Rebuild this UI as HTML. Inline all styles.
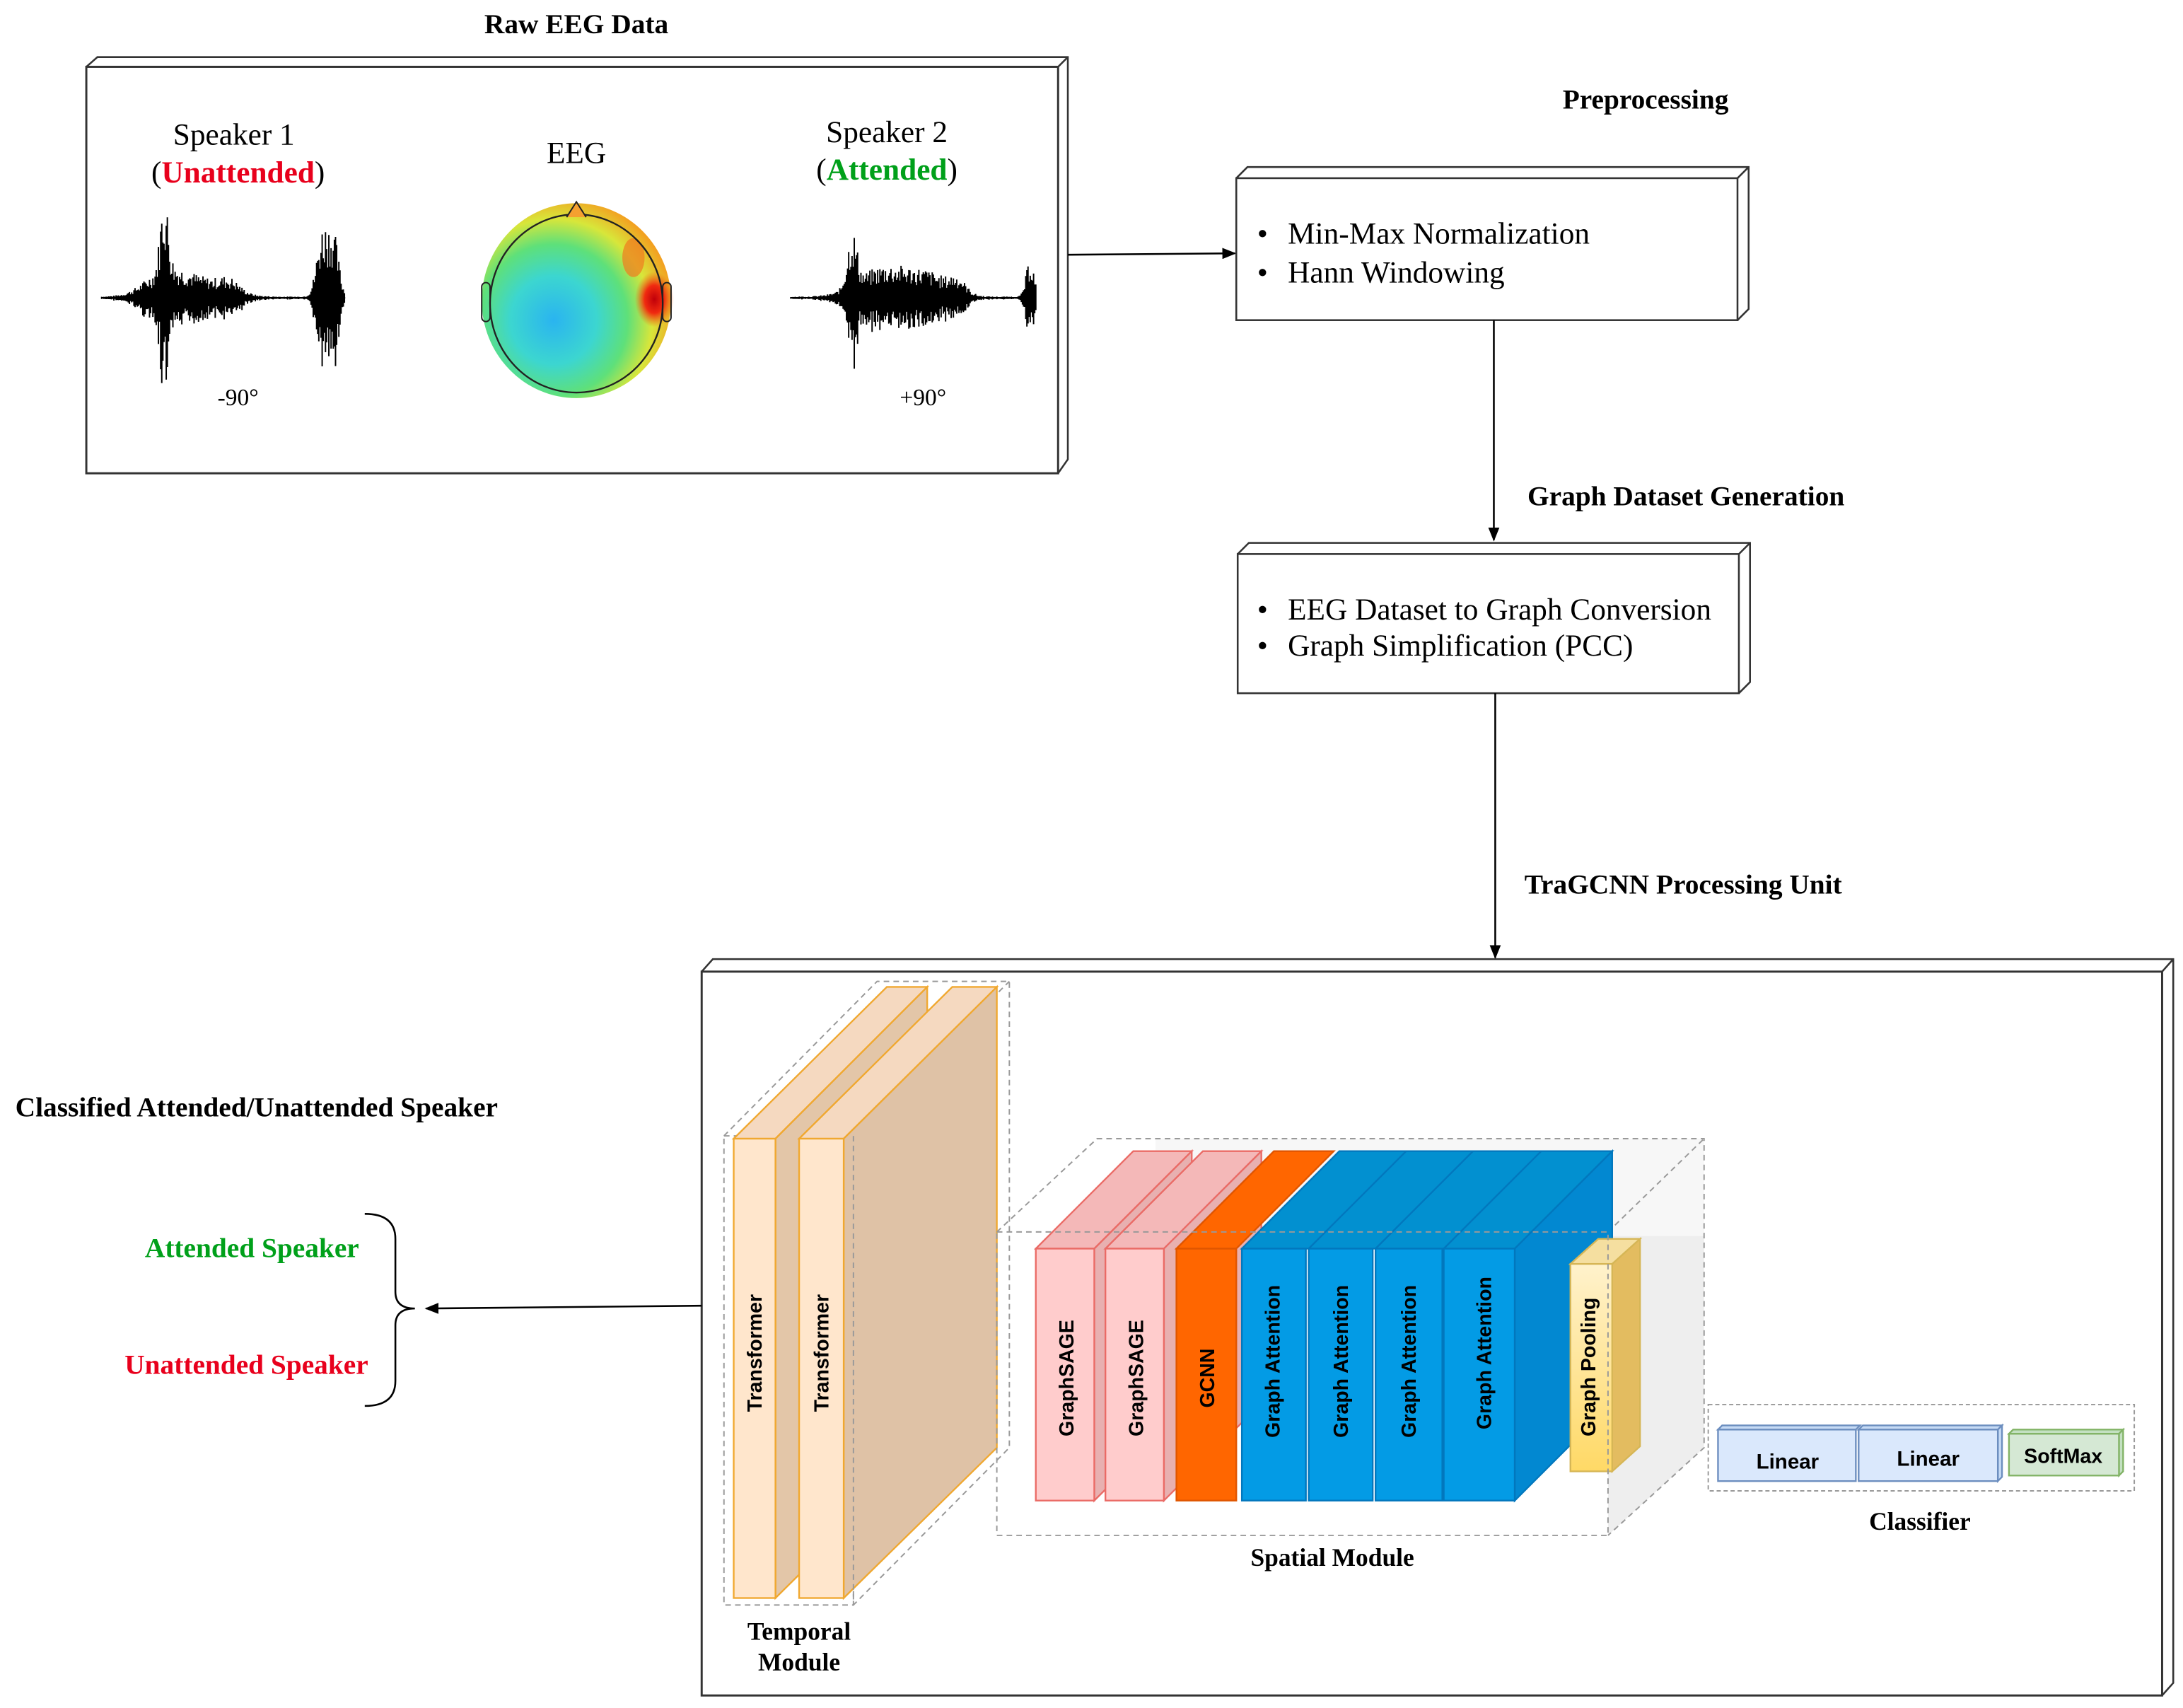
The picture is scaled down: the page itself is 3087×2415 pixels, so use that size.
<!DOCTYPE html>
<html><head><meta charset="utf-8"><style>
html,body{margin:0;padding:0;background:#fff;}
svg{display:block;}
.t{font-family:"Liberation Serif",serif;}
.b{font-family:"Liberation Serif",serif;font-weight:bold;}
.s{font-family:"Liberation Sans",sans-serif;font-weight:bold;}
</style></head><body>
<svg width="3087" height="2415" viewBox="0 0 1568 1227" preserveAspectRatio="none" xmlns="http://www.w3.org/2000/svg">
<defs>
<marker id="ar" markerWidth="10" markerHeight="8" refX="9" refY="4" orient="auto" markerUnits="userSpaceOnUse"><path d="M0,0 L10,4 L0,8 z" fill="#000"/></marker>
<radialGradient id="eeg" cx="0.38" cy="0.6" r="0.65">
<stop offset="0" stop-color="#2ab4f0"/><stop offset="0.35" stop-color="#3cd6d0"/><stop offset="0.6" stop-color="#5ee07a"/><stop offset="0.8" stop-color="#d8e63a"/><stop offset="1" stop-color="#f3a020"/></radialGradient>
<radialGradient id="hot" cx="0.5" cy="0.5" r="0.5"><stop offset="0" stop-color="#c0000a"/><stop offset="0.5" stop-color="#f02a10"/><stop offset="1" stop-color="#f06010" stop-opacity="0"/></radialGradient>
<linearGradient id="pool" x1="0" y1="0" x2="0" y2="1"><stop offset="0" stop-color="#fff2cc"/><stop offset="1" stop-color="#ffd966"/></linearGradient>
</defs>

<!-- Raw EEG -->
<text x="414" y="24" class="b" font-size="20" text-anchor="middle">Raw EEG Data</text>
<path d="M62,48 L70,41 L767,41 L767,330 L760,340" fill="none" stroke="#333" stroke-width="1.3"/>
<line x1="760" y1="48" x2="767" y2="41" stroke="#333" stroke-width="1.3"/>
<rect x="62" y="48" width="698" height="292" fill="#fff" stroke="#333" stroke-width="1.5"/>
<text x="168" y="104" class="t" font-size="22" text-anchor="middle">Speaker 1</text>
<text x="171" y="131" class="t" font-size="22" text-anchor="middle">(<tspan fill="#e8001c" font-weight="bold">Unattended</tspan>)</text>
<text x="414" y="117" class="t" font-size="22" text-anchor="middle">EEG</text>
<text x="637" y="102" class="t" font-size="22" text-anchor="middle">Speaker 2</text>
<text x="637" y="129" class="t" font-size="22" text-anchor="middle">(<tspan fill="#00a01a" font-weight="bold">Attended</tspan>)</text>
<text x="171" y="291" class="t" font-size="17" text-anchor="middle">-90°</text>
<text x="663" y="291" class="t" font-size="17" text-anchor="middle">+90°</text>
<g id="w1" stroke="#000" stroke-width="1"></g>
<g id="w2" stroke="#000" stroke-width="1"></g>
<!-- head -->
<ellipse cx="414" cy="216" rx="68" ry="70" fill="url(#eeg)"/>
<ellipse cx="470" cy="215" rx="14" ry="20" fill="url(#hot)"/>
<ellipse cx="455" cy="185" rx="8" ry="14" fill="#f07a20" opacity="0.7"/>
<ellipse cx="414" cy="218" rx="62" ry="64" fill="none" stroke="#222" stroke-width="1.2"/>
<path d="M407,156 L414,145 L421,156" fill="#f5a030" stroke="#222" stroke-width="1"/>
<rect x="346" y="203" width="6" height="28" rx="3" fill="none" stroke="#222"/>
<rect x="476" y="203" width="6" height="28" rx="3" fill="none" stroke="#222"/>

<line x1="767" y1="183" x2="887" y2="182" stroke="#000" stroke-width="1.3" marker-end="url(#ar)"/>

<!-- Preprocessing -->
<text x="1182" y="78" class="b" font-size="20" text-anchor="middle">Preprocessing</text>
<path d="M888,128 L896,120 L1256,120 L1256,222 L1248,230" fill="none" stroke="#333" stroke-width="1.3"/>
<line x1="1248" y1="128" x2="1256" y2="120" stroke="#333" stroke-width="1.3"/>
<rect x="888" y="128" width="360" height="102" fill="#fff" stroke="#333" stroke-width="1.3"/>
<text x="903" y="175" class="t" font-size="22">•<tspan x="925">Min-Max Normalization</tspan></text>
<text x="903" y="203" class="t" font-size="22">•<tspan x="925">Hann Windowing</tspan></text>
<line x1="1073" y1="230" x2="1073" y2="388" stroke="#000" stroke-width="1.3" marker-end="url(#ar)"/>

<!-- Graph dataset -->
<text x="1211" y="363" class="b" font-size="20" text-anchor="middle">Graph Dataset Generation</text>
<path d="M889,398 L897,390 L1257,390 L1257,490 L1249,498" fill="none" stroke="#333" stroke-width="1.3"/>
<line x1="1249" y1="398" x2="1257" y2="390" stroke="#333" stroke-width="1.3"/>
<rect x="889" y="398" width="360" height="100" fill="#fff" stroke="#333" stroke-width="1.3"/>
<text x="903" y="445" class="t" font-size="22">•<tspan x="925">EEG Dataset to Graph Conversion</tspan></text>
<text x="903" y="471" class="t" font-size="22">•<tspan x="925">Graph Simplification (PCC)</tspan></text>
<line x1="1074" y1="498" x2="1074" y2="688" stroke="#000" stroke-width="1.3" marker-end="url(#ar)"/>
<text x="1209" y="642" class="b" font-size="20" text-anchor="middle">TraGCNN Processing Unit</text>

<!-- Big box -->
<path d="M504,698 L512,689 L1561,689 L1561,1209 L1553,1218" fill="none" stroke="#333" stroke-width="1.3"/>
<line x1="1553" y1="698" x2="1561" y2="689" stroke="#333" stroke-width="1.3"/>
<rect x="504" y="698" width="1049" height="520" fill="#fff" stroke="#333" stroke-width="1.5"/>

<!-- left side -->
<text x="11" y="802" class="b" font-size="20">Classified Attended/Unattended Speaker</text>
<text x="181" y="903" class="b" font-size="20" fill="#00a01a" text-anchor="middle">Attended Speaker</text>
<text x="177" y="987" class="b" font-size="20" fill="#e8001c" text-anchor="middle">Unattended Speaker</text>
<path d="M262,872 Q284,872 284,890 L284,928 Q284,940 298,940 Q284,940 284,952 L284,992 Q284,1010 262,1010" fill="none" stroke="#000" stroke-width="1.3"/>
<line x1="504" y1="938" x2="306" y2="940" stroke="#000" stroke-width="1.3" marker-end="url(#ar)"/>

<!-- Temporal module -->
<g stroke="#999" stroke-dasharray="4,3" fill="none" stroke-width="1">
<rect x="520" y="816" width="93" height="337"/>
<path d="M520,816 L630,705 L725,705 L725,1040 L613,1153 M613,816 L725,705"/>
</g>
<g stroke="#f0a830" stroke-width="1.2">
<polygon points="527,818 637,709 666,709 557,818" fill="#f5d9c0"/>
<polygon points="557,818 666,709 666,1040 557,1148" fill="#e3c6a8"/>
<rect x="527" y="818" width="30" height="330" fill="#ffe6cc"/>
<polygon points="574,818 684,709 716,709 606,818" fill="#f5d9c0"/>
<polygon points="606,818 716,709 716,1040 606,1148" fill="#dfc2a6"/>
<rect x="574" y="818" width="32" height="330" fill="#ffe6cc"/>
</g>
<line x1="613" y1="816" x2="613" y2="1153" stroke="#999" stroke-dasharray="4,3"/>
<text transform="translate(547,972) rotate(-90)" class="s" font-size="14.5" text-anchor="middle">Transformer</text>
<text transform="translate(595,972) rotate(-90)" class="s" font-size="14.5" text-anchor="middle">Transformer</text>
<text x="574" y="1178" class="b" font-size="18" text-anchor="middle">Temporal</text>
<text x="574" y="1200" class="b" font-size="18" text-anchor="middle">Module</text>

<!-- Spatial module -->
<polygon points="1155,885 1224,818 1224,1040 1155,1103" fill="#eeeeee"/>
<rect x="830" y="818" width="394" height="70" fill="#f7f7f7"/>
<g stroke="#999" stroke-dasharray="4,3" fill="none" stroke-width="1">
<path d="M716,885 L788,818 L1224,818 L1224,1040 L1155,1103 M1155,885 L1224,818"/>
</g>
<g stroke-width="1.2">
<polygon points="744,897 814,827 856,827 786,897" fill="#f4b8b8" stroke="#ea6b66"/>
<polygon points="786,897 856,827 856,1008 786,1078" fill="#e8b0b0" stroke="#ea6b66"/>
<rect x="744" y="897" width="42" height="181" fill="#ffcccc" stroke="#ea6b66"/>
<polygon points="794,897 864,827 906,827 836,897" fill="#f4b8b8" stroke="#ea6b66"/>
<polygon points="836,897 906,827 906,1008 836,1078" fill="#e8b0b0" stroke="#ea6b66"/>
<rect x="794" y="897" width="42" height="181" fill="#ffcccc" stroke="#ea6b66"/>
<polygon points="845,897 915,827 958,827 888,897" fill="#ff6600" stroke="#e05500"/>
<rect x="845" y="897" width="43" height="181" fill="#ff6600" stroke="#e05500"/>
<polygon points="892,897 962,827 1158,827 1088,897" fill="#0290d0" stroke="#0277bd"/>
<polygon points="1088,897 1158,827 1158,1008 1088,1078" fill="#0288d1" stroke="#0277bd"/>
<rect x="892" y="897" width="46" height="181" fill="#039be5" stroke="#0277bd"/>
<rect x="940" y="897" width="46" height="181" fill="#039be5" stroke="#0277bd"/>
<rect x="988" y="897" width="48" height="181" fill="#039be5" stroke="#0277bd"/>
<rect x="1037" y="897" width="51" height="181" fill="#039be5" stroke="#0277bd"/>
<line x1="940" y1="897" x2="1010" y2="827" stroke="#0277bd"/>
<line x1="988" y1="897" x2="1058" y2="827" stroke="#0277bd"/>
<line x1="1037" y1="897" x2="1107" y2="827" stroke="#0277bd"/>
<polygon points="1128,908 1148,890 1178,890 1158,908" fill="#f5dfa0" stroke="#d6b656"/>
<polygon points="1158,908 1178,890 1178,1039 1158,1057" fill="#e3bc60" stroke="#d6b656"/>
<rect x="1128" y="908" width="30" height="149" fill="url(#pool)" stroke="#d6b656"/>
</g>
<g stroke="#999" stroke-dasharray="4,3" fill="none" stroke-width="1">
<rect x="716" y="885" width="439" height="218"/>
</g>
<g class="s" font-size="14.5" text-anchor="middle">
<text transform="translate(771,990) rotate(-90)">GraphSAGE</text>
<text transform="translate(821,990) rotate(-90)">GraphSAGE</text>
<text transform="translate(872,990) rotate(-90)">GCNN</text>
<text transform="translate(919,978) rotate(-90)">Graph Attention</text>
<text transform="translate(968,978) rotate(-90)">Graph Attention</text>
<text transform="translate(1017,978) rotate(-90)">Graph Attention</text>
<text transform="translate(1071,972) rotate(-90)">Graph Attention</text>
<text transform="translate(1146,982) rotate(-90)">Graph Pooling</text>
</g>
<text x="957" y="1125" class="b" font-size="18" text-anchor="middle">Spatial Module</text>

<!-- Classifier -->
<rect x="1227" y="1009" width="306" height="62" fill="none" stroke="#999" stroke-dasharray="3,2"/>
<g stroke="#6c8ebf" stroke-width="1.2">
<polygon points="1234,1027 1237,1024 1336,1024 1333,1027" fill="#c6dbf5"/>
<rect x="1234" y="1027" width="99" height="37" fill="#dae8fc"/>
<polygon points="1335,1027 1338,1024 1438,1024 1435,1027" fill="#c6dbf5"/>
<polygon points="1435,1027 1438,1024 1438,1061 1435,1064" fill="#c6dbf5"/>
<rect x="1335" y="1027" width="100" height="37" fill="#dae8fc"/>
</g>
<g stroke="#82b366" stroke-width="1.2">
<polygon points="1443,1030 1446,1027 1525,1027 1522,1030" fill="#c3e0c1"/>
<polygon points="1522,1030 1525,1027 1525,1057 1522,1060" fill="#c3e0c1"/>
<rect x="1443" y="1030" width="79" height="30" fill="#d5e8d4"/>
</g>
<text x="1284" y="1055" class="s" font-size="15" text-anchor="middle">Linear</text>
<text x="1385" y="1053" class="s" font-size="15" text-anchor="middle">Linear</text>
<text x="1482" y="1051" class="s" font-size="14.5" text-anchor="middle">SoftMax</text>
<text x="1379" y="1099" class="b" font-size="18" text-anchor="middle">Classifier</text>
</svg>
<script>
(function(){
var s=7;function r(){s=(s*9301+49297)%233280;return s/233280;}
function wave(id,x0,x1,cy,env){
 var g=document.getElementById(id),d="M"+x0+","+cy+" L"+x1+","+cy+" ";
 for(var x=x0;x<=x1;x+=0.8){var a=env(x)*(0.4+0.6*r());if(a<0.6)a=0.6;d+="M"+x.toFixed(1)+","+(cy-a).toFixed(1)+" L"+x.toFixed(1)+","+(cy+a*(0.8+0.4*r())).toFixed(1)+" ";}
 var p=document.createElementNS("http://www.w3.org/2000/svg","path");p.setAttribute("d",d);p.setAttribute("stroke","#000");p.setAttribute("stroke-width","1");p.setAttribute("fill","none");g.appendChild(p);
}
function bump(x,c,w,h){var t=(x-c)/w;return h*Math.exp(-t*t);}
wave("w1",73,248,214,function(x){return bump(x,118,4,55)+bump(x,118,20,18)+bump(x,145,25,12)+bump(x,165,10,8)+bump(x,232,6,50)+bump(x,240,5,40)+1;});
wave("w2",568,744,214,function(x){return bump(x,612,5,40)+bump(x,635,25,22)+bump(x,668,20,15)+bump(x,688,8,10)+bump(x,740,4,28)+1;});
})();
</script>
</body></html>
